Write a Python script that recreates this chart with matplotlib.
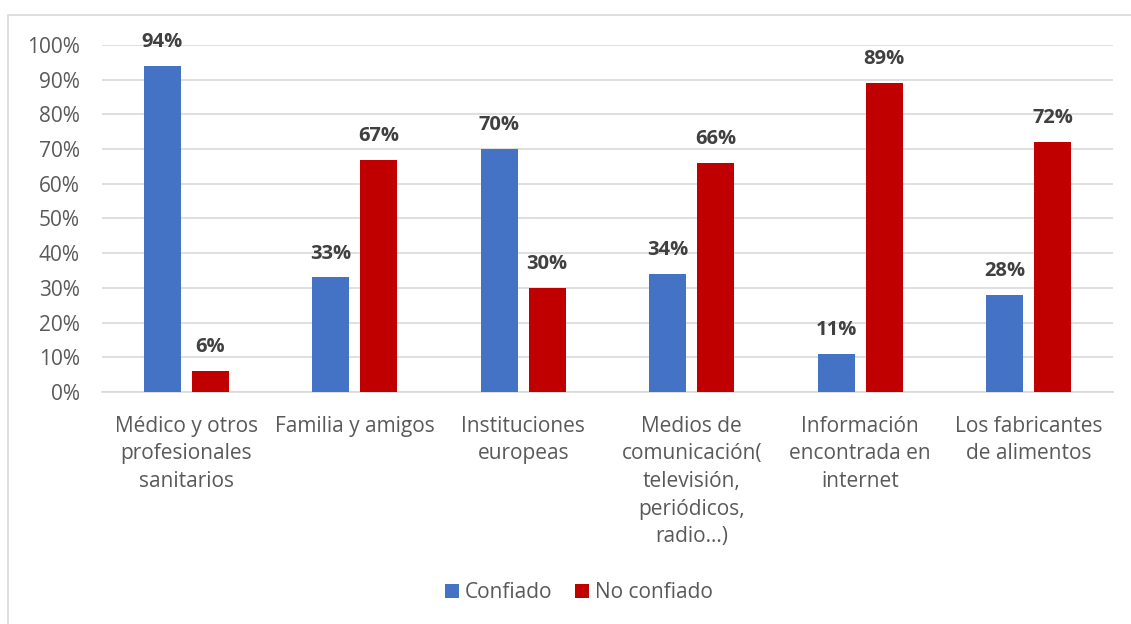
import numpy as np
import matplotlib.pyplot as plt
from matplotlib.patches import Rectangle

categorias = [
    "Médico y otros\nprofesionales\nsanitarios",
    "Familia y amigos",
    "Instituciones\neuropeas",
    "Medios de\ncomunicación(\ntelevisión,\nperiódicos,\nradio...)",
    "Información\nencontrada en\ninternet",
    "Los fabricantes\nde alimentos",
]
confiado = [94, 33, 70, 34, 11, 28]
no_confiado = [6, 67, 30, 66, 89, 72]

AZUL = "#4472C4"
ROJO = "#C00000"
GRIS_TEXTO = "#595959"

plt.rcParams["font.family"] = ["Open Sans", "DejaVu Sans"]

fig = plt.figure(figsize=(11.31, 6.24), dpi=100)
ax = fig.add_axes([0.0902, 0.3718, 0.8938, 0.5561])

# marco del grafico
fig.patches.append(Rectangle((8 / 1131, -0.01), 1.0, 1 - 15 / 624 + 0.01,
                             transform=fig.transFigure, fill=False,
                             edgecolor="#D9D9D9", linewidth=1.2))

x = np.arange(len(categorias))
ancho = 0.22
off = 0.142
b1 = ax.bar(x - off, confiado, ancho, color=AZUL, label="Confiado", zorder=3)
b2 = ax.bar(x + off, no_confiado, ancho, color=ROJO, label="No confiado", zorder=3)

for barras, vals in ((b1, confiado), (b2, no_confiado)):
    for b, v in zip(barras, vals):
        ax.text(b.get_x() + b.get_width() / 2, v + 4.0, f"{v}%",
                ha="center", va="bottom", fontsize=14.5, fontweight="bold",
                color="#404040")

ax.set_xlim(-0.5, len(categorias) - 0.5)
ax.set_ylim(0, 100)
ax.set_yticks(range(0, 101, 10))
ax.set_yticklabels([f"{v}%" for v in range(0, 101, 10)])
ax.set_xticks(x)
ax.set_xticklabels(categorias, linespacing=1.42)
ax.tick_params(axis="both", length=0, labelsize=15, labelcolor=GRIS_TEXTO)
ax.tick_params(axis="y", pad=16)
ax.tick_params(axis="x", pad=17)
ax.grid(axis="y", color="#D9D9D9", linewidth=1.2, zorder=0)
for s in ["top", "right", "left"]:
    ax.spines[s].set_visible(False)
ax.spines["bottom"].set_color("#D9D9D9")
ax.spines["bottom"].set_linewidth(1.2)

fig.legend(handles=[b1, b2], loc="center", bbox_to_anchor=(0.512, 1 - 593 / 624),
           ncol=2, frameon=False, fontsize=15, labelcolor=GRIS_TEXTO,
           handlelength=0.65, handleheight=0.65, handletextpad=0.3, columnspacing=1.1)

fig.savefig("out.png", dpi=100)
